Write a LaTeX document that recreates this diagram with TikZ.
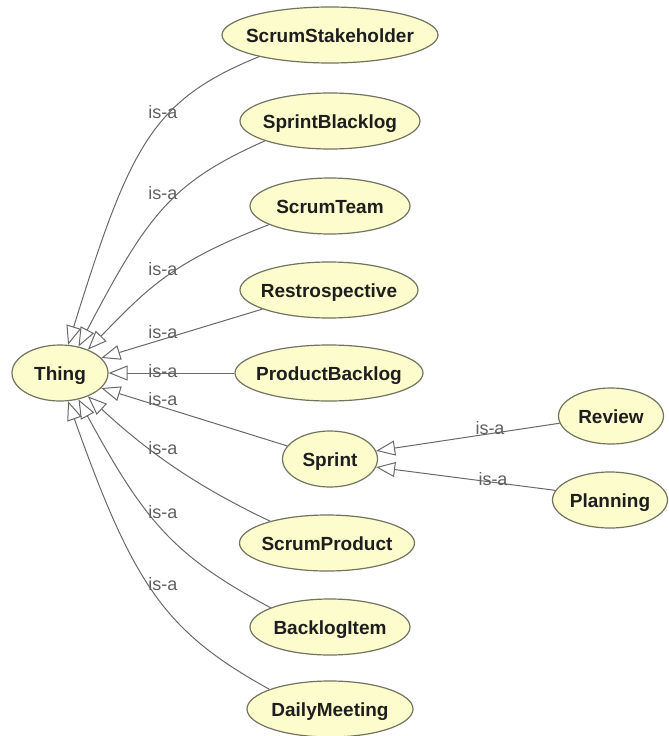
\documentclass[tikz,border=0pt]{standalone}
\usepackage{fontspec}
\setmainfont{Liberation Sans}
\usetikzlibrary{shapes.geometric,arrows.meta}
\definecolor{classfill}{RGB}{252,252,204}
\definecolor{classline}{RGB}{115,115,98}
\definecolor{classtext}{RGB}{30,30,30}
\definecolor{edgeline}{RGB}{105,105,105}
\definecolor{edgetext}{RGB}{96,96,96}
% class names are centred without widening the ellipse
\newcommand\clsname[1]{\makebox[0pt]{#1}}

\begin{document}
\begin{tikzpicture}[x=1pt,y=-1pt,
  cls/.style={ellipse, draw=classline, fill=classfill, line width=1.2pt,
    inner sep=0pt, minimum height=56pt, text=classtext,
    font=\fontsize{19}{22}\selectfont\bfseries, text height=14pt, text depth=0pt},
  isa/.style={draw=edgeline, line width=1pt,
    -{Triangle[length=19pt,width=15pt,fill=white]}},
  isalabel/.style={text=edgetext, font=\fontsize{18}{20}\selectfont, inner sep=0pt}]

\useasboundingbox (0,0) rectangle (669,736);
\fill[white] (0,0) rectangle (669,736);

% classes
\node[cls, minimum width=96pt]  (thing)  at (60,373)  {\clsname{Thing}};
\node[cls, minimum width=216pt] (stake)  at (330,35)  {\clsname{ScrumStakeholder}};
\node[cls, minimum width=180pt] (sblog)  at (330,121) {\clsname{SprintBlacklog}};
\node[cls, minimum width=160pt] (team)   at (330,206) {\clsname{ScrumTeam}};
\node[cls, minimum width=178pt] (retro)  at (329,290) {\clsname{Restrospective}};
\node[cls, minimum width=188pt] (pblog)  at (329,373) {\clsname{ProductBacklog}};
\node[cls, minimum width=95pt]  (sprint) at (330,459) {\clsname{Sprint}};
\node[cls, minimum width=175pt] (sprod)  at (327,543) {\clsname{ScrumProduct}};
\node[cls, minimum width=160pt] (bitem)  at (330,627) {\clsname{BacklogItem}};
\node[cls, minimum width=166pt] (daily)  at (330,709) {\clsname{DailyMeeting}};
\node[cls, minimum width=105pt] (review) at (611,416) {\clsname{Review}};
\node[cls, minimum width=115pt] (plan)   at (610,500) {\clsname{Planning}};

% subclass links
\draw[isa] (stake.197) .. controls (152,100) and (130,146) .. (thing.74);
\draw[isa] (sblog.197) .. controls (172,182) and (148,214) .. (thing.55);
\draw[isa] (team.197) .. controls (172,262) and (148,288) .. (thing.40);
\draw[isa] (retro.196) -- (thing.20);
\draw[isa] (pblog) -- (thing);
\draw[isa] (sprint.163) -- (thing.-20);
\draw[isa] (sprod.159) .. controls (196,486) and (148,452) .. (thing.-40);
\draw[isa] (bitem.162) .. controls (174,556) and (145,522) .. (thing.-55);
\draw[isa] (daily.162) .. controls (166,632) and (134,587) .. (thing.-74);
\draw[isa] (review.188) -- (sprint.10);
\draw[isa] (plan.170) -- (sprint.-10);

% link labels
\node[isalabel] (l1) at (163,112) {is-a};
\node[isalabel] (l2) at (163,193) {is-a};
\node[isalabel] (l3) at (163,269) {is-a};
\node[isalabel] (l4) at (163,332) {is-a};
\node[isalabel] (l5) at (163,371) {is-a};
\node[isalabel] (l6) at (163,399) {is-a};
\node[isalabel] (l7) at (163,448) {is-a};
\node[isalabel] (l8) at (163,512) {is-a};
\node[isalabel] (l9) at (163,584) {is-a};
\node[isalabel] (l10) at (490,428) {is-a};
\node[isalabel] (l11) at (493,479) {is-a};
\end{tikzpicture}
\end{document}
